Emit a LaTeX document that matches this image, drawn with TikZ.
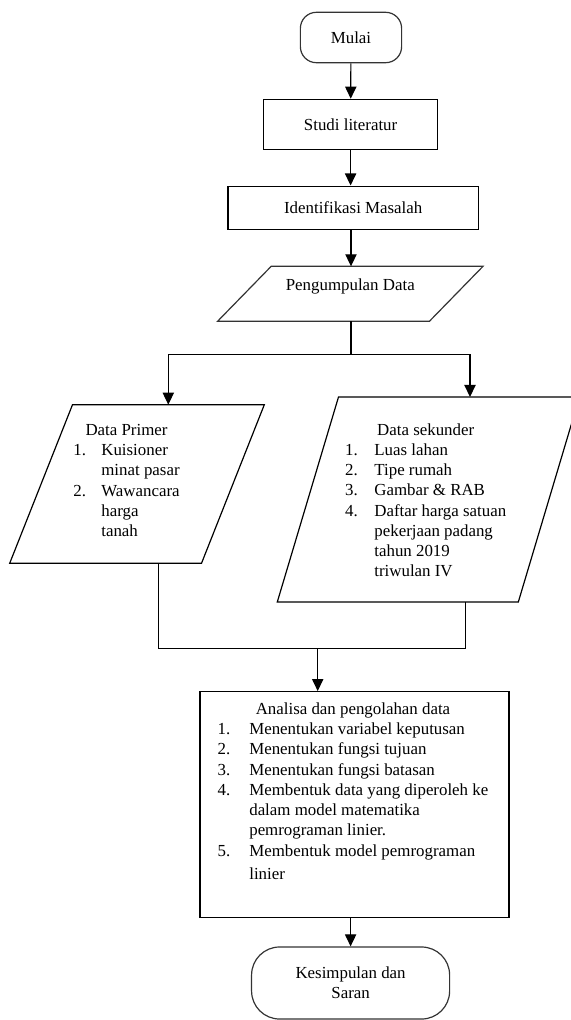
\documentclass[tikz,border=0pt]{standalone}
\usepackage{fontspec}
\setmainfont{Liberation Serif}
\usetikzlibrary{arrows.meta,positioning,calc}

\begin{document}
\begin{tikzpicture}[x=0.025cm, y=-0.025cm,
  every node/.style={font=\fontsize{12}{14.4}\selectfont, inner sep=0pt},
  line/.style={line width=0.85pt},
  box/.style={draw, line, rectangle},
  term/.style={draw=black!80, line, rectangle, rounded corners=#1},
  io/.style={rectangle},
  arr/.style={line, -{Triangle[length=0.3cm,width=0.28cm]}}]
  \useasboundingbox (0,0) rectangle (571,1020);
  \node[term=0.4cm, minimum width=2.53cm, minimum height=1.26cm] (mulai) at (351,37.5) {Mulai};
  \node[box, minimum width=4.36cm, minimum height=1.25cm] (studi) at (350.6,124.3) {Studi literatur};
  \node[box, minimum width=6.26cm, minimum height=1.08cm] (ident) at (353.2,207.7) {Identifikasi Masalah};
  \node[io, minimum width=6.62cm, minimum height=1.36cm, text depth=0.48cm] (pd) at (350.3,293.8) {Pengumpulan Data};
  \node[io, minimum width=6.35cm, minimum height=3.95cm] (dp) at (137,484) {};
  \node[io, minimum width=7.54cm, minimum height=5.11cm] (ds) at (428.4,499.5) {};
  \node[box, minimum width=7.725cm, minimum height=5.64cm] (an) at (354.5,804.5) {};
  \node[term=0.7cm, minimum width=4.95cm, minimum height=1.8cm, align=center] (ks) at (350.6,983) {Kesimpulan dan\\Saran};
  \draw[line, draw=black!80] ($(pd.north west)+(1.34cm,0)$) -- (pd.north east) -- ($(pd.south east)-(1.34cm,0)$) -- (pd.south west) -- cycle;
  \draw[line] ($(dp.north west)+(1.57cm,0)$) -- (dp.north east) -- ($(dp.south east)-(1.57cm,0)$) -- (dp.south west) -- cycle;
  \draw[line] ($(ds.north west)+(1.53cm,0)$) -- (ds.north east) -- ($(ds.south east)-(1.53cm,0)$) -- (ds.south west) -- cycle;
  \node (dptxt) at (126.5,482) {\begin{tabular}{@{}p{0.7cm}@{}l@{}}
    \multicolumn{2}{@{}c@{}}{Data Primer}\\
    1. & Kuisioner\\
       & minat pasar\\
    2. & Wawancara\\
       & harga\\
       & tanah
  \end{tabular}};
  \node (dstxt) at (425.7,502) {\begin{tabular}{@{}p{0.73cm}@{}l@{}}
    \multicolumn{2}{@{}c@{}}{Data sekunder}\\
    1. & Luas lahan\\
    2. & Tipe rumah\\
    3. & Gambar \& RAB\\
    4. & Daftar harga satuan\\
       & pekerjaan padang\\
       & tahun 2019\\
       & triwulan IV
  \end{tabular}};
  \node (antxt) at (353,792.7) {\begin{tabular}{@{}p{0.79cm}@{}l@{}}
    \multicolumn{2}{@{}c@{}}{Analisa dan pengolahan data}\\
    1. & Menentukan variabel keputusan\\
    2. & Menentukan fungsi tujuan\\
    3. & Menentukan fungsi batasan\\
    4. & Membentuk data yang diperoleh ke\\
       & dalam model matematika\\
       & pemrograman linier.\\
    5. & Membentuk model pemrograman\\[2pt]
       & linier
  \end{tabular}};
  \coordinate (fork) at (351,354.3);
  \coordinate (forkL) at (168.3,354.3);
  \coordinate (forkR) at (470,354.3);
  \coordinate (joinL) at (158.3,648.7);
  \coordinate (joinR) at (465.6,648.7);
  \coordinate (join) at (317.7,648.7);
  \draw[arr] (mulai) -- (studi);
  \draw[arr] (studi) -- (studi |- ident.north);
  \draw[arr] (ident.south -| fork) -- (pd.north -| fork);
  \draw[line] (pd.south -| fork) -- (fork);
  \draw[line] (forkL) -- (forkR);
  \draw[arr] (forkL) -- (forkL |- dp.north);
  \draw[arr] (forkR) -- (forkR |- ds.north);
  \draw[line] (joinL |- dp.south) -- (joinL) -- (joinR) -- (joinR |- ds.south);
  \draw[arr] (join) -- (join |- an.north);
  \draw[arr] (an.south -| ks.north) -- (ks.north);
\end{tikzpicture}
\end{document}
